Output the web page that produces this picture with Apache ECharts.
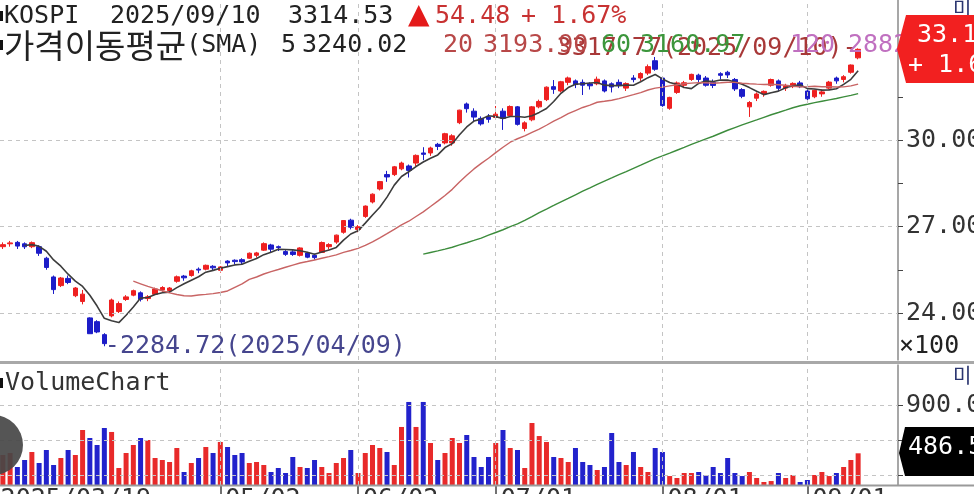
<!DOCTYPE html>
<html><head><meta charset="utf-8">
<script src="https://cdn.jsdelivr.net/npm/echarts@6/dist/echarts.min.js"></script>
<style>html,body{margin:0;padding:0;background:#fff}#c{width:974px;height:494px}</style>
</head><body><div id="c"></div>
<script>
const dates = [
'2025/03/19','2025/03/20','2025/03/21','2025/03/24','2025/03/25','2025/03/26','2025/03/27','2025/03/28','2025/03/31',
'2025/04/01','2025/04/02','2025/04/03','2025/04/04','2025/04/07','2025/04/08','2025/04/09','2025/04/10','2025/04/11','2025/04/14','2025/04/15','2025/04/16','2025/04/17','2025/04/18','2025/04/21','2025/04/22','2025/04/23','2025/04/24','2025/04/25','2025/04/28','2025/04/29','2025/04/30',
'2025/05/02','2025/05/07','2025/05/08','2025/05/09','2025/05/12','2025/05/13','2025/05/14','2025/05/15','2025/05/16','2025/05/19','2025/05/20','2025/05/21','2025/05/22','2025/05/23','2025/05/26','2025/05/27','2025/05/28','2025/05/29','2025/05/30',
'2025/06/02','2025/06/04','2025/06/05','2025/06/09','2025/06/10','2025/06/11','2025/06/12','2025/06/13','2025/06/16','2025/06/17','2025/06/18','2025/06/19','2025/06/20','2025/06/23','2025/06/24','2025/06/25','2025/06/26','2025/06/27','2025/06/30',
'2025/07/01','2025/07/02','2025/07/03','2025/07/04','2025/07/07','2025/07/08','2025/07/09','2025/07/10','2025/07/11','2025/07/14','2025/07/15','2025/07/16','2025/07/17','2025/07/18','2025/07/21','2025/07/22','2025/07/23','2025/07/24','2025/07/25','2025/07/28','2025/07/29','2025/07/30','2025/07/31',
'2025/08/01','2025/08/04','2025/08/05','2025/08/06','2025/08/07','2025/08/08','2025/08/11','2025/08/12','2025/08/13','2025/08/14','2025/08/18','2025/08/19','2025/08/20','2025/08/21','2025/08/22','2025/08/25','2025/08/26','2025/08/27','2025/08/28','2025/08/29',
'2025/09/01','2025/09/02','2025/09/03','2025/09/04','2025/09/05','2025/09/08','2025/09/09','2025/09/10'
];
const opens = [
2620,2630,2640,2645,2640,2630,2630,2590,2525,2495,
2520,2460,2440,2383,2370,2325,2390,2405,2447,2462,
2470,2450,2465,2480,2478,2510,2528,2530,2552,2552,
2562,2548,2580,2583,2585,2590,2600,2618,2636,2630,
2613,2612,2600,2608,2600,2610,2630,2646,2680,2722,
2690,2735,2785,2830,2880,2880,2900,2910,2920,2955,
2955,2985,2990,2990,3060,3125,3100,3075,3080,3078,
3100,3085,3115,3040,3070,3115,3140,3185,3170,3200,
3205,3200,3195,3195,3205,3195,3200,3180,3215,3215,
3232,3275,3215,3110,3165,3190,3210,3225,3215,3200,
3230,3235,3210,3175,3115,3145,3160,3190,3205,3180,
3185,3198,3170,3150,3160,3180,3215,3210,3235,3285
];
const closes = [
2628.62,2637.10,2643.13,2632.09,2629.67,2643.94,2607.15,2557.98,2481.12,2521.39,
2505.86,2486.70,2465.42,2328.20,2334.23,2293.70,2445.06,2432.72,2455.89,2477.41,
2447.28,2456.14,2483.42,2488.42,2486.64,2525.56,2522.03,2546.30,2548.86,2565.42,
2556.61,2559.79,2573.80,2578.28,2577.27,2607.33,2608.42,2640.57,2621.36,2626.87,
2603.42,2603.09,2625.58,2593.67,2592.09,2644.40,2637.22,2670.10,2720.64,2697.67,
2698.97,2770.84,2812.05,2855.77,2871.85,2907.04,2920.03,2894.62,2946.66,2950.30,
2972.29,2977.74,3021.84,3014.47,3103.64,3108.62,3079.56,3055.94,3071.70,3089.65,
3075.06,3116.27,3054.28,3059.47,3114.95,3133.74,3183.23,3175.77,3202.03,3215.28,
3192.29,3190.06,3188.07,3210.81,3169.94,3183.77,3190.45,3196.05,3209.52,3230.57,
3254.47,3245.44,3119.41,3147.75,3198.00,3198.60,3227.68,3210.01,3189.91,3189.40,
3224.37,3225.66,3177.28,3151.56,3130.09,3159.60,3168.73,3209.86,3179.36,3187.14,
3196.32,3186.01,3142.93,3172.35,3166.80,3200.83,3205.12,3219.59,3260.05,3314.53
];
const lows = [
2612,2622,2630,2622,2622,2625,2598,2550,2466,2490,
2500,2455,2430,2328,2330,2284.72,2385,2400,2442,2458,
2440,2441,2462,2474,2470,2505,2512,2526,2538,2548,
2548,2540,2562,2568,2570,2588,2592,2615,2610,2615,
2598,2598,2596,2590,2585,2608,2620,2640,2675,2690,
2680,2730,2780,2825,2855,2875,2895,2870,2910,2930,
2945,2965,2985,2980,3055,3095,3066,3050,3060,3070,
3035,3080,3050,3030,3065,3110,3135,3160,3165,3190,
3180,3156,3175,3190,3165,3165,3180,3170,3200,3205,
3225,3240,3115,3105,3160,3180,3205,3195,3185,3180,
3210,3215,3170,3145,3080,3135,3150,3185,3170,3170,
3180,3180,3135,3145,3150,3175,3195,3200,3230,3280
];
const highs = [
2632,2645,2650,2650,2645,2648,2635,2595,2530,2525,
2530,2490,2480,2385,2375,2330,2450,2440,2462,2481,
2475,2462,2488,2493,2490,2530,2532,2550,2558,2568,
2566,2563,2583,2586,2590,2610,2612,2645,2640,2634,
2618,2618,2628,2612,2606,2648,2642,2672,2722,2727,
2705,2773,2815,2858,2893,2910,2925,2915,2950,2975,
2977,2990,3025,3020,3105,3130,3110,3082,3090,3118,
3110,3120,3118,3065,3118,3140,3186,3208,3205,3220,
3210,3210,3200,3220,3210,3200,3210,3200,3225,3235,
3262,3288,3220,3150,3203,3205,3230,3230,3222,3210,
3235,3240,3215,3180,3135,3165,3172,3213,3210,3195,
3200,3205,3175,3175,3175,3205,3220,3225,3262,3317.77
];
const volumes = [
420,472,489,369,429,498,403,515,386,446,
515,472,687,618,558,704,670,360,489,558,
618,601,446,429,412,532,326,403,446,541,
489,584,541,472,489,403,412,386,326,360,
317,455,369,360,429,369,317,403,446,515,
317,489,558,532,498,386,713,928,713,928,
575,429,489,618,575,644,455,369,455,575,
687,532,515,360,747,635,584,455,446,412,
532,412,386,343,369,661,412,386,498,369,
326,532,498,291,274,317,317,326,300,369,
317,446,317,291,326,274,240,248,317,274,
300,240,257,300,326,291,317,369,429,486.5
];
const padCats = ['_a','_b','_c','_d','_e'];
const labelIdx = [0, 31, 50, 69, 92, 112];
const priceTicks = [2400, 2700, 3000];
const priceMinorTicks = [2400, 2550, 2700, 2850, 3000, 3150];
const volTicks = [300, 600, 900];
const volLabelTicks = [900];

const MONO = "'DejaVu Sans Mono', monospace";
const RED = '#ee2020', BLUE = '#1c1cc8';
const cats = dates.concat(padCats);
const candle = dates.map((d, i) => [opens[i], closes[i], lows[i], highs[i]]);
const volData = volumes.map((v, i) => ({value: v, itemStyle: {color: closes[i] >= opens[i] ? '#e82a2a' : '#2222cc'}}));
function sma(n) {
  return closes.map((c, i) => {
    if (i < n - 1) return '-';
    let s = 0; for (let k = i - n + 1; k <= i; k++) s += closes[k];
    return +(s / n).toFixed(2);
  });
}
const hiI = highs.indexOf(Math.max.apply(null, highs));
const loI = lows.indexOf(Math.min.apply(null, lows));
const hiText = highs[hiI].toFixed(2) + '(' + dates[hiI] + ')-';
const loText = '-' + lows[loI].toFixed(2) + '(' + dates[loI] + ')';
const showIdx = new Set(labelIdx);
const intervalFn = (i) => showIdx.has(i);
const vLines = labelIdx.slice(1).map(i => ({xAxis: dates[i]}));
const gridLineStyle = {color: '#c4c4c4', type: [4, 4], width: 1};

function T(text, x, y, fill, extra) {
  return {type: 'text', z: 50, style: Object.assign({text: text, x: x, y: y, fill: fill, fontSize: 25, fontFamily: MONO, verticalAlign: 'middle'}, extra || {})};
}

const chart = echarts.init(document.getElementById('c'), null, {renderer: 'canvas'});
chart.setOption({
  animation: false,
  backgroundColor: '#fff',
  grid: [
    {left: -8, width: 906, top: 0, height: 360, containLabel: false, outerBoundsMode: 'none'},
    {left: -8, width: 906, top: 365, height: 120, containLabel: false, outerBoundsMode: 'none'}
  ],
  xAxis: [
    {type: 'category', gridIndex: 0, data: cats, boundaryGap: true, axisLine: {show: false}, axisTick: {show: false}, axisLabel: {show: false}, splitLine: {show: false}},
    {type: 'category', gridIndex: 1, data: cats, boundaryGap: true, axisLine: {show: false},
      axisTick: {show: true, interval: intervalFn, alignWithLabel: true, length: 10, lineStyle: {color: '#444', width: 1.5}},
      axisLabel: {show: true, interval: intervalFn, margin: 2, align: 'left', padding: [0, 0, 0, 5], fontFamily: MONO, fontSize: 25, color: '#333',
        formatter: (v) => v === dates[0] ? v : v.slice(5)},
      splitLine: {show: false}}
  ],
  yAxis: [
    {type: 'value', gridIndex: 0, position: 'right', min: 2237, max: 3485.6, scale: true,
      axisLine: {show: true, lineStyle: {color: '#8a8a8a', width: 1.5}},
      axisTick: {show: true, customValues: priceMinorTicks, length: 5, lineStyle: {color: '#444'}},
      axisLabel: {show: true, customValues: priceTicks, margin: 8, fontFamily: MONO, fontSize: 25, color: '#333', formatter: (v) => (v / 100).toFixed(2)},
      splitLine: {show: false}},
    {type: 'value', gridIndex: 1, position: 'right', min: 214, max: 1245.8, scale: true,
      axisLine: {show: true, lineStyle: {color: '#8a8a8a', width: 1.5}},
      axisTick: {show: true, customValues: volTicks, length: 5, lineStyle: {color: '#444'}},
      axisLabel: {show: true, customValues: volLabelTicks, margin: 8, fontFamily: MONO, fontSize: 25, color: '#333', formatter: (v) => v.toFixed(1)},
      splitLine: {show: false}}
  ],
  series: [
    {type: 'line', xAxisIndex: 0, yAxisIndex: 0, data: [], z: 1, silent: true,
      markLine: {silent: true, symbol: ['none', 'none'], label: {show: false}, lineStyle: gridLineStyle,
        data: priceTicks.map(v => ({yAxis: v})).concat(vLines)}},
    {type: 'line', xAxisIndex: 1, yAxisIndex: 1, data: [], z: 1, silent: true,
      markLine: {silent: true, symbol: ['none', 'none'], label: {show: false}, lineStyle: gridLineStyle,
        data: volTicks.map(v => ({yAxis: v})).concat(vLines)}},
    {type: 'candlestick', name: 'KOSPI', xAxisIndex: 0, yAxisIndex: 0, data: candle, barWidth: 5, z: 3,
      itemStyle: {color: RED, color0: BLUE, borderColor: RED, borderColor0: BLUE, borderWidth: 1},
      markPoint: {symbol: 'circle', symbolSize: 1, itemStyle: {color: 'rgba(0,0,0,0)'}, z: 20,
        data: [
          {coord: [dates[hiI], highs[hiI]], label: {show: true, position: 'left', distance: 0, formatter: hiText, color: '#a83838', fontFamily: MONO, fontSize: 25}},
          {coord: [dates[loI], lows[loI]], label: {show: true, position: 'right', distance: 0, formatter: loText, color: '#46468e', fontFamily: MONO, fontSize: 25}}
        ]}},
    {type: 'line', name: 'SMA5', xAxisIndex: 0, yAxisIndex: 0, data: sma(5), showSymbol: false, z: 4, lineStyle: {color: '#3c3c3c', width: 1.6}},
    {type: 'line', name: 'SMA20', xAxisIndex: 0, yAxisIndex: 0, data: sma(20), showSymbol: false, z: 4, lineStyle: {color: '#c86464', width: 1.4}},
    {type: 'line', name: 'SMA60', xAxisIndex: 0, yAxisIndex: 0, data: sma(60), showSymbol: false, z: 4, lineStyle: {color: '#3c8c3c', width: 1.4}},
    {type: 'bar', name: 'Volume', xAxisIndex: 1, yAxisIndex: 1, data: volData, barWidth: 5, z: 3}
  ],
  graphic: [
    {type: 'line', z: 40, shape: {x1: 0, y1: 362.5, x2: 974, y2: 362.5}, style: {stroke: '#a8a8a8', lineWidth: 3}},
    {type: 'line', z: 40, shape: {x1: 0, y1: 485.5, x2: 974, y2: 485.5}, style: {stroke: '#9a9a9a', lineWidth: 2}},
    {type: 'rect', z: 50, shape: {x: 0, y: 11, width: 3, height: 10}, style: {fill: '#111'}},
    T('KOSPI', 4, 16, '#222'),
    T('2025/09/10', 110, 16, '#222'),
    T('3314.53', 288, 16, '#222'),
    T('▲', 408, 16, '#e41a1a', {fontSize: 28, fontFamily: "'DejaVu Sans', sans-serif"}),
    T('54.48', 435, 16, '#c83232'),
    T('+ 1.67%', 521, 16, '#c83232'),
    {type: 'rect', z: 50, shape: {x: 0, y: 40, width: 3, height: 10}, style: {fill: '#111'}},
    {type: 'text', z: 50, style: {text: '{k|가격이동평균}{m|(SMA)}', x: 4, y: 45, verticalAlign: 'middle',
      rich: {k: {fontFamily: "'Noto Sans CJK KR', sans-serif", fontSize: 33, fill: '#222'}, m: {fontFamily: MONO, fontSize: 25, fill: '#222'}}}},
    T('5', 281, 45, '#222'),
    T('3240.02', 302, 45, '#222'),
    T('20', 443, 45, '#b84848'),
    T('3193.90', 483, 45, '#b84848'),
    T('60', 601, 45, '#3c963c'),
    T('3160.97', 640, 45, '#3c963c'),
    T('120', 790, 45, '#c070c0'),
    T('2882.41', 848, 45, '#c070c0'),
    {type: 'rect', z: 50, shape: {x: 0, y: 378, width: 3, height: 10}, style: {fill: '#111'}},
    T('VolumeChart', 5, 383, '#333'),
    T('×100', 899, 346, '#222'),
    T('미', 953, 8, '#2a3570', {fontSize: 20, fontFamily: "'Noto Sans CJK KR', sans-serif"}),
    T('미', 953, 375, '#2a3570', {fontSize: 20, fontFamily: "'Noto Sans CJK KR', sans-serif"}),
    {type: 'polygon', z: 60, shape: {points: [[897, 49], [906, 15], [980, 15], [980, 83], [906, 83]]}, style: {fill: '#f22020'}},
    Object.assign(T('33.14', 917, 35, '#fff'), {z: 61}),
    Object.assign(T('+ 1.67%', 908, 65, '#fff'), {z: 61}),
    {type: 'polygon', z: 60, shape: {points: [[899, 453], [905, 427], [980, 427], [980, 476], [905, 476]]}, style: {fill: '#000'}},
    Object.assign(T('486.5', 908, 447, '#fff'), {z: 61}),
    {type: 'circle', z: 70, shape: {cx: -7, cy: 445, r: 30}, style: {fill: 'rgba(70,70,70,0.92)'}}
  ]
});
</script>
</body></html>
